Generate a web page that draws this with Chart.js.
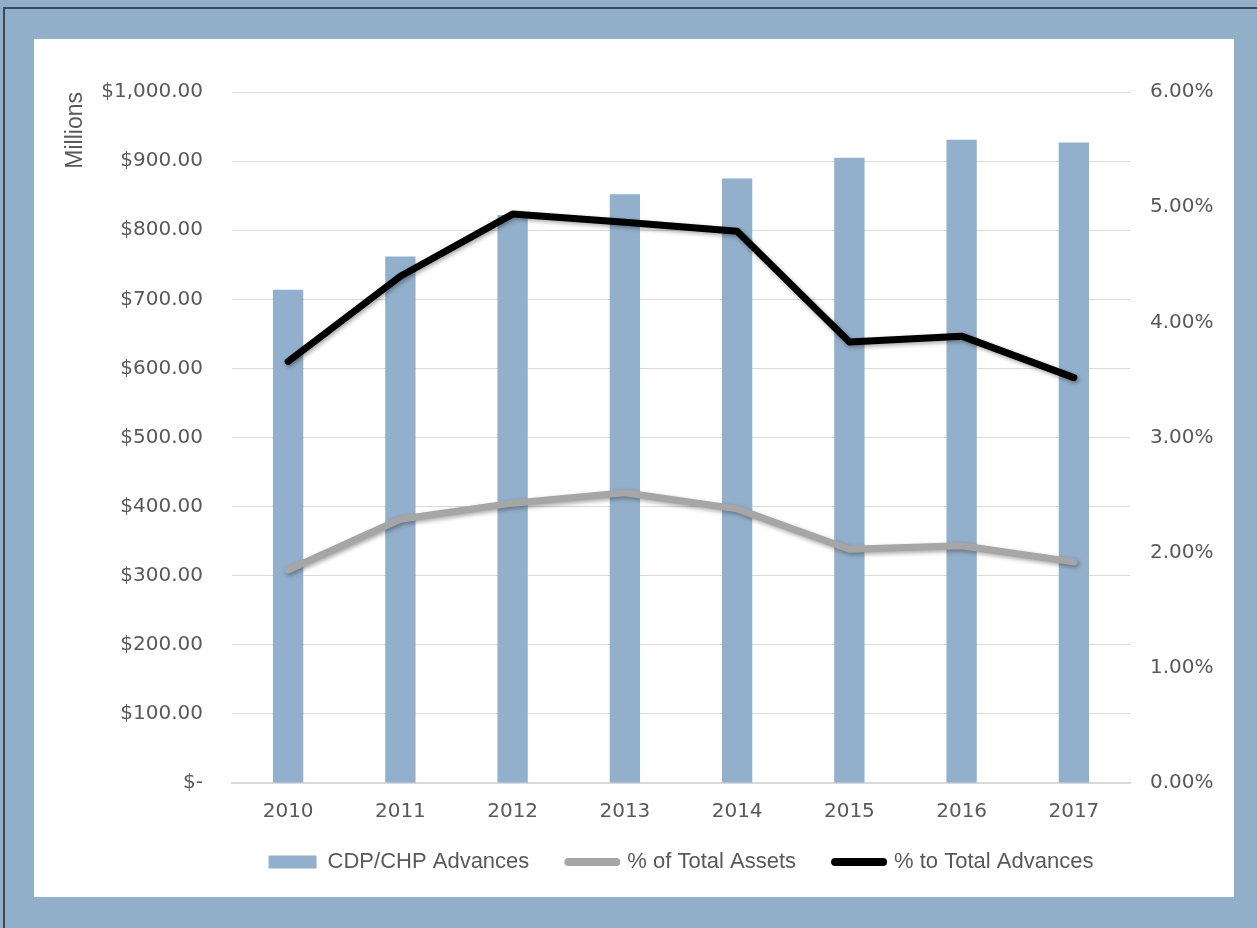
<!DOCTYPE html>
<html>
<head>
<meta charset="utf-8">
<script src="https://cdn.jsdelivr.net/npm/chart.js@4/dist/chart.umd.min.js"></script>
<style>
  html, body { margin: 0; padding: 0; }
  body { width: 1257px; height: 928px; background: #92afca; position: relative; overflow: hidden; }
  #frameTop { position: absolute; left: 4px; top: 7px; width: 1253px; height: 2px; background: #3d4a56; }
  #frameLeft { position: absolute; left: 3px; top: 7px; width: 2px; height: 921px; background: #3d4a56; }
  #panel { position: absolute; left: 34px; top: 39px; width: 1200px; height: 858px; background: #ffffff; }
  canvas { display: block; }
</style>
</head>
<body>
<div id="frameTop"></div>
<div id="frameLeft"></div>
<div id="panel"><canvas id="c" width="1200" height="858"></canvas></div>
<script>
const categories = ['2010', '2011', '2012', '2013', '2014', '2015', '2016', '2017'];
const advances = [714, 762, 822, 852, 875, 905, 931, 927];            // $ millions
const pctTotalAssets = [1.85, 2.29, 2.43, 2.52, 2.38, 2.03, 2.06, 1.92]; // %
const pctTotalAdvances = [3.66, 4.40, 4.94, 4.87, 4.79, 3.83, 3.88, 3.52]; // %
const seriesNames = ['CDP/CHP Advances', '% of Total Assets', '% to Total Advances'];

const tickColor = '#595959';
const gridColor = '#d9d9d9';

const shadowPlugin = {
  id: 'lineShadow',
  beforeDatasetDraw(chart, args) {
    const ds = chart.data.datasets[args.index];
    if (ds.type === 'line') {
      const ctx = chart.ctx;
      ctx.save();
      ctx.shadowColor = 'rgba(0,0,0,0.35)';
      ctx.shadowBlur = 4;
      ctx.shadowOffsetX = 1.5;
      ctx.shadowOffsetY = 2;
    }
  },
  afterDatasetDraw(chart, args) {
    const ds = chart.data.datasets[args.index];
    if (ds.type === 'line') chart.ctx.restore();
  }
};

// centre the legend row over the plot area and lift it slightly
const legendShift = {
  id: 'legendShift',
  afterLayout(chart) {
    const lg = chart.legend;
    const area = chart.chartArea;
    const shift = (area.left + area.right) / 2 - (lg.left + lg.right) / 2;
    lg.left += shift;
    lg.right += shift;
    lg.top -= 16;
    lg.bottom -= 16;
  }
};

new Chart(document.getElementById('c'), {
  data: {
    labels: categories,
    datasets: [
      {
        type: 'bar', label: seriesNames[0], data: advances, yAxisID: 'y',
        backgroundColor: '#92afcb', borderWidth: 0,
        categoryPercentage: 1.0, barPercentage: 0.27, order: 3
      },
      {
        type: 'line', label: seriesNames[1], data: pctTotalAssets, yAxisID: 'y2',
        borderColor: '#a6a6a6', backgroundColor: '#a6a6a6', borderWidth: 7,
        pointRadius: 0, tension: 0, borderCapStyle: 'round', borderJoinStyle: 'round', order: 2
      },
      {
        type: 'line', label: seriesNames[2], data: pctTotalAdvances, yAxisID: 'y2',
        borderColor: '#000000', backgroundColor: '#000000', borderWidth: 7,
        pointRadius: 0, tension: 0, borderCapStyle: 'round', borderJoinStyle: 'round', order: 1
      }
    ]
  },
  options: {
    responsive: false,
    animation: false,
    layout: { padding: { left: 0, right: 0, top: 53, bottom: -2 } },
    plugins: {
      tooltip: { enabled: false },
      legend: {
        position: 'bottom',
        labels: {
          font: { family: 'Liberation Sans', size: 22 },
          color: tickColor,
          usePointStyle: true,
          pointStyleWidth: 48,
          boxWidth: 48,
          boxHeight: 13,
          padding: 39,
          sort: (a, b) => a.datasetIndex - b.datasetIndex,
          generateLabels(chart) {
            return chart.data.datasets.map((ds, i) => {
              const isBar = ds.type === 'bar';
              const col = isBar ? ds.backgroundColor : ds.borderColor;
              return {
                text: ds.label,
                fillStyle: col,
                strokeStyle: col,
                lineWidth: isBar ? 0 : 8,
                lineCap: 'round',
                pointStyle: isBar ? 'rect' : 'line',
                fontColor: tickColor,
                hidden: false,
                datasetIndex: i
              };
            });
          }
        }
      }
    },
    scales: {
      x: {
        grid: { display: false, drawTicks: false },
        border: { display: true, color: gridColor, width: 2 },
        ticks: {
          font: { family: 'DejaVu Sans', size: 20 },
          color: tickColor, padding: 17, maxRotation: 0
        },
        afterFit(scale) { scale.height = 45; }
      },
      y: {
        position: 'left',
        min: 0, max: 1000,
        grid: { color: gridColor, lineWidth: 1, drawTicks: false },
        border: { display: false },
        ticks: {
          stepSize: 100,
          font: { family: 'DejaVu Sans', size: 20 },
          color: tickColor, padding: 29,
          callback(v) {
            if (v === 0) return '$-';
            return '$' + v.toLocaleString('en-US', { minimumFractionDigits: 2, maximumFractionDigits: 2 });
          }
        },
        title: {
          display: true, text: 'Millions', align: 'end',
          font: { family: 'Liberation Sans', size: 23 },
          color: tickColor, padding: { top: 28, bottom: 0 }
        },
        afterFit(scale) { scale.width = 198; }
      },
      y2: {
        position: 'right',
        min: 0, max: 6,
        grid: { display: false, drawTicks: false },
        border: { display: false },
        ticks: {
          stepSize: 1,
          font: { family: 'DejaVu Sans', size: 20 },
          color: tickColor, padding: 20,
          callback(v) { return v.toFixed(2) + '%'; }
        },
        afterFit(scale) { scale.width = 104; }
      }
    }
  },
  plugins: [shadowPlugin, legendShift]
});
</script>
</body>
</html>
